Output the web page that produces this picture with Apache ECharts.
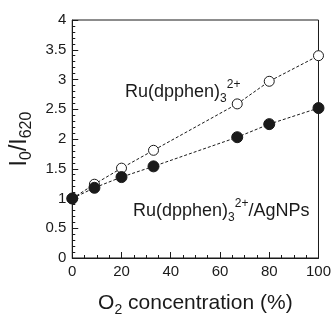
<!DOCTYPE html>
<html>
<head>
<meta charset="utf-8">
<script src="https://cdn.jsdelivr.net/npm/echarts@6/dist/echarts.min.js"></script>
<style>
  html, body { margin: 0; padding: 0; background: #fff; }
  #chart { width: 334px; height: 322px; }
</style>
</head>
<body>
<div id="chart"></div>
<script>
// O2 concentration (%)
var o2 = [0, 9, 20, 33, 67, 80, 100];
// I0/I620 values
var ruFree = [1.0, 1.24, 1.51, 1.81, 2.59, 2.97, 3.40];
var ruAg = [1.0, 1.18, 1.36, 1.54, 2.03, 2.25, 2.52];

function pairs(xs, ys) {
  return xs.map(function (x, i) { return [x, ys[i]]; });
}

var font = 'Liberation Sans, Arial, sans-serif';
var ink = '#1a1a1a';

var labelRich = {
  a: { fontFamily: font, fontSize: 18, fill: ink, lineHeight: 26 },
  sub: { fontFamily: font, fontSize: 12, fill: ink, lineHeight: 8, verticalAlign: 'bottom' },
  sup: { fontFamily: font, fontSize: 12, fill: ink, lineHeight: 20, verticalAlign: 'top' }
};

var chart = echarts.init(document.getElementById('chart'));
var option = {
  backgroundColor: '#fff',
  animation: false,
  grid: {
    left: 70, right: 13, top: 20, bottom: 52,
    show: true, borderColor: ink, borderWidth: 1, backgroundColor: 'transparent'
  },
  xAxis: {
    type: 'value', min: 0, max: 100, interval: 20,
    name: '{a|O}{sub|2}{a| concentration (%)}',
    nameLocation: 'middle', nameGap: 31,
    nameTextStyle: {
      rich: {
        a: { fontFamily: font, fontSize: 21, color: ink, lineHeight: 28 },
        sub: { fontFamily: font, fontSize: 14, color: ink, lineHeight: 14, verticalAlign: 'bottom' }
      }
    },
    axisLine: { lineStyle: { color: ink, width: 1 } },
    axisTick: { inside: true, length: 6, lineStyle: { color: ink } },
    minorTick: { show: true, splitNumber: 4, length: 3, lineStyle: { color: ink } },
    splitLine: { show: false },
    axisLabel: { fontFamily: font, fontSize: 15, color: ink, margin: 6 }
  },
  yAxis: {
    type: 'value', min: 0, max: 4, interval: 0.5,
    name: '{a|I}{sub|0}{a|/I}{sub|620}',
    nameLocation: 'middle', nameGap: 36,
    nameTextStyle: {
      rich: {
        a: { fontFamily: font, fontSize: 23, color: ink, lineHeight: 30 },
        sub: { fontFamily: font, fontSize: 16, color: ink, lineHeight: 15, verticalAlign: 'bottom' }
      }
    },
    axisLine: { lineStyle: { color: ink, width: 1 } },
    axisTick: { inside: true, length: 6, lineStyle: { color: ink } },
    minorTick: { show: true, splitNumber: 5, length: 3, lineStyle: { color: ink } },
    splitLine: { show: false },
    axisLabel: { fontFamily: font, fontSize: 15, color: ink, margin: 6 }
  },
  series: [
    {
      name: 'Ru(dpphen)3 2+',
      type: 'line',
      data: pairs(o2, ruFree),
      symbol: 'circle', symbolSize: 10,
      itemStyle: { color: '#fff', borderColor: ink, borderWidth: 1 },
      lineStyle: { color: ink, width: 1, type: [3, 2] },
      z: 3
    },
    {
      name: 'Ru(dpphen)3 2+/AgNPs',
      type: 'line',
      data: pairs(o2, ruAg),
      symbol: 'circle', symbolSize: 11,
      itemStyle: { color: ink, borderColor: ink, borderWidth: 1 },
      lineStyle: { color: ink, width: 1, type: [3, 2] },
      z: 4
    }
  ],
  graphic: [
    {
      type: 'text', left: 125, top: 79,
      style: { text: '{a|Ru(dpphen)}{sub|3}{sup|2+}', rich: labelRich }
    },
    {
      type: 'text', left: 133, top: 198,
      style: { text: '{a|Ru(dpphen)}{sub|3}{sup|2+}{a|/AgNPs}', rich: labelRich }
    }
  ]
};
chart.setOption(option);
</script>
</body>
</html>
